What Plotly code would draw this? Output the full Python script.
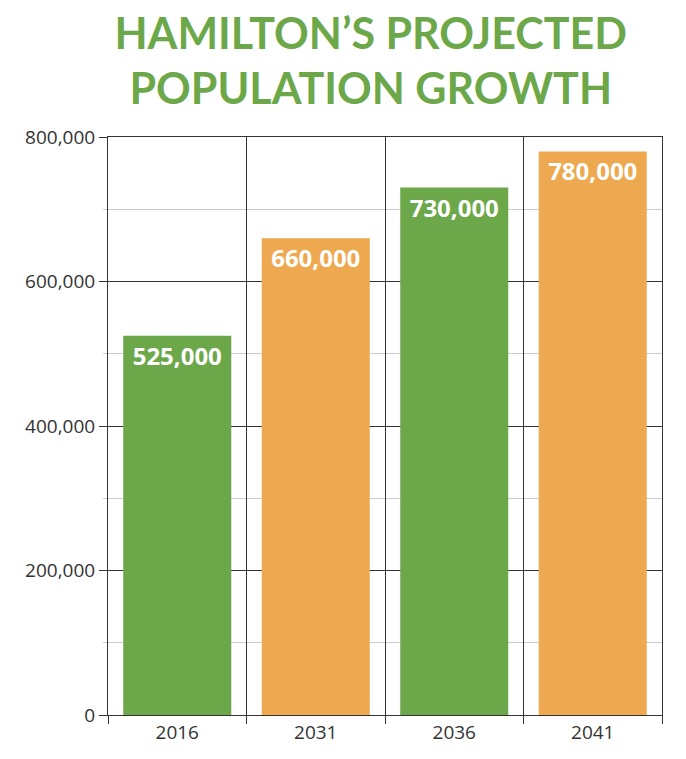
import plotly.graph_objects as go

# Chart data
years = ['2016', '2031', '2036', '2041']
population = [525000, 660000, 730000, 780000]
bar_colors = ['#6ca84a', '#eea84f', '#6ca84a', '#eea84f']

fig = go.Figure(
    go.Bar(
        x=years,
        y=population,
        marker_color=bar_colors,
        marker_line_width=0,
        texttemplate='%{y:,}',
        textposition='inside',
        insidetextanchor='end',
        textangle=0,
        textfont=dict(family='Open Sans', size=24, color='white', weight='bold'),
    )
)

# page has an 8px body margin, so the figure is a bit smaller than the window
fig.update_layout(
    title=dict(
        text='HAMILTON’S PROJECTED<br>POPULATION GROWTH',
        font=dict(family='Lato', size=43, color='#6ca84a', weight='bold'),
        x=0.535,
        xref='container',
        xanchor='center',
        y=0.946,
        yref='container',
        yanchor='middle',
    ),
    width=678,
    height=751,
    margin=dict(l=100, r=24, t=129, b=44),
    paper_bgcolor='white',
    plot_bgcolor='white',
    bargap=0.22,
    showlegend=False,
    font=dict(family='Open Sans', color='#333333'),
)

fig.update_xaxes(
    tickson='boundaries',
    showgrid=True,
    gridcolor='#333333',
    gridwidth=1,
    ticks='outside',
    ticklen=8,
    tickcolor='#333333',
    showline=True,
    linecolor='#333333',
    linewidth=1,
    mirror=True,
    tickfont=dict(size=19, color='#333333'),
)

fig.update_yaxes(
    range=[0, 800000],
    dtick=200000,
    tickformat=',d',
    showgrid=True,
    gridcolor='#333333',
    gridwidth=1,
    ticks='outside',
    ticklen=8,
    tickcolor='#333333',
    showline=True,
    linecolor='#333333',
    linewidth=1,
    mirror=True,
    zeroline=False,
    tickfont=dict(size=19, color='#333333'),
    minor=dict(dtick=100000, showgrid=True, gridcolor='#cccccc', ticks='outside', ticklen=4, tickcolor='#cccccc'),
)

fig.write_html('out.html')
